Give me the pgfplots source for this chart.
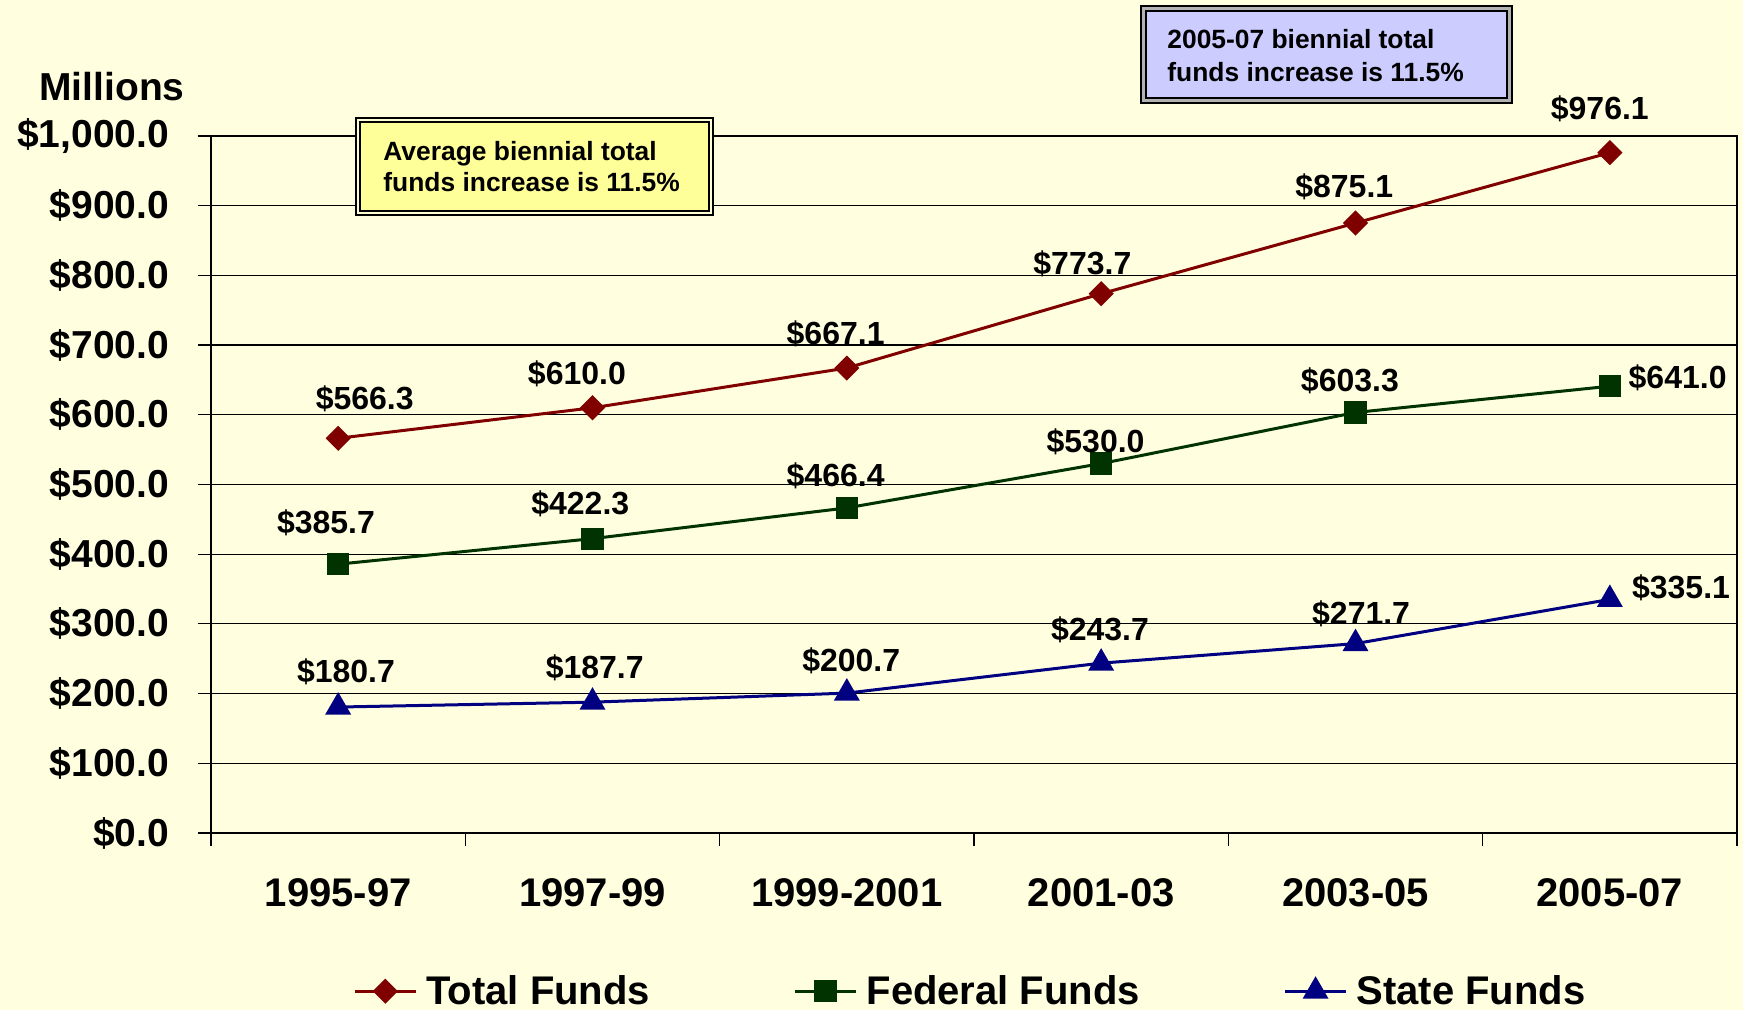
\documentclass[border=0pt]{standalone}
\usepackage{fontspec}
\setmainfont{Liberation Sans}
\usepackage{pgfplots}
\pgfplotsset{compat=1.18}
\usepackage{pgfplotstable}
\definecolor{bg}{RGB}{255,255,224}
\definecolor{ybox}{RGB}{255,255,153}
\definecolor{bbox}{RGB}{204,204,255}
\definecolor{ctot}{RGB}{128,0,0}
\definecolor{cfed}{RGB}{0,51,0}
\definecolor{csta}{RGB}{0,0,128}
\newcommand{\fs}[1]{\fontsize{#1}{1.2\dimexpr#1pt\relax}\selectfont\bfseries}
\pgfkeys{/pgf/number format/assume math mode=true}

\pgfplotstableread{
x y dx dy
0 566.3 13.3 19.5
1 610.0 -7.8 17.2
2 667.1 -5.6 17.2
3 773.7 -9.4 15.0
4 875.1 -5.6 18.3
5 976.1 -5.0 21.7
}\tottab
\pgfplotstableread{
x y dx dy
0 385.7 -6.1 20.6
1 422.3 -6.1 17.2
2 466.4 -5.6 16.1
3 530.0 -2.8 11.1
4 603.3 -2.8 15.6
5 641.0 33.9 4.4
}\fedtab
\pgfplotstableread{
x y dx dy
0 180.7 3.9 17.8
1 187.7 1.1 17.2
2 200.7 2.2 16.1
3 243.7 -0.6 16.7
4 271.7 2.8 15.0
5 335.1 35.6 5.6
}\statab

\begin{document}
\begin{tikzpicture}[x=1pt,y=1pt]
\fill[bg] (0,0) rectangle (871.5,505);
\useasboundingbox (0,0) rectangle (871.5,505);
\begin{axis}[
  at={(105.5pt,88.5pt)}, anchor=south west,
  width=763pt, height=348.5pt, scale only axis,
  clip=false,
  xmin=-0.5, xmax=5.5, ymin=0, ymax=1000,
  tick pos=left,
  xtick={-0.5,0.5,...,5.5}, xticklabels={},
  extra x ticks={0,1,2,3,4,5},
  extra x tick labels={1995-97,1997-99,1999-2001,2001-03,2003-05,2005-07},
  extra x tick style={major tick length=0pt, xticklabel style={anchor=center, yshift=-30pt}},
  ytick={0,100,...,1000},
  yticklabels={\$0.0,\$100.0,\$200.0,\$300.0,\$400.0,\$500.0,\$600.0,\$700.0,\$800.0,\$900.0,{\$1,000.0}},
  yticklabel style={anchor=east, inner sep=0pt, xshift=-14.25pt},
  tick align=outside,
  major tick length=6.5pt,
  every tick/.style={black, line width=0.6pt},
  tick label style={font=\fs{19.5}, text=black},
  xticklabel style={font=\fs{20}},
  ymajorgrids,
  major grid style={black, line width=0.6pt},
  axis line style={black, line width=0.8pt},
  legend columns=3,
  legend style={at={(0.093,-0.227)}, anchor=west, draw=none, fill=none,
    inner sep=0pt, font=\fs{20},
    nodes={inner sep=0pt},
    /tikz/every odd column/.append style={column sep=4.5pt},
    /tikz/every even column/.append style={column sep=71.8pt}},
  legend image code/.code={\draw[mark repeat=2,mark phase=2,#1] plot coordinates {(0pt,0pt) (15.25pt,0pt) (30.5pt,0pt)};},
  nodes near coords={\$\pgfmathprintnumber[fixed,fixed zerofill,precision=1]{\pgfplotspointmeta}},
  visualization depends on={\thisrow{dx} \as \dx},
  visualization depends on={\thisrow{dy} \as \dy},
  nodes near coords style={font=\fs{16}, text=black, anchor=center, inner sep=0pt, xshift=\dx pt, yshift=\dy pt},
]
\addplot[color=ctot, line width=1.5pt, mark=square*, mark size=3.7pt, mark options={rotate=45, solid, fill=ctot}] table[x=x,y=y] {\tottab};
\addlegendentry{Total Funds}
\addplot[color=cfed, line width=1.5pt, mark=square*, mark size=4.8pt, mark options={solid, fill=cfed}] table[x=x,y=y] {\fedtab};
\addlegendentry{Federal Funds}
\addplot[color=csta, line width=1.5pt, mark=triangle*, mark size=6pt, mark options={solid, fill=csta}] table[x=x,y=y] {\statab};
\addlegendentry{State Funds}
\end{axis}
% Millions label
\node[anchor=base west, inner sep=0pt, font=\fs{19.5}] at (19.5,454.5) {Millions};
% yellow box
\fill[ybox] (177.5,397) rectangle (357,446.5);
\draw[black, line width=1pt, double=ybox!40!white, double distance=1pt] (179,398.5) rectangle (355.5,445);
\node[anchor=base west, inner sep=0pt, font=\fs{13.2}] at (191.5,424.5) {Average biennial total};
\node[anchor=base west, inner sep=0pt, font=\fs{13.2}] at (191.5,409) {funds increase is 11.5\%};
% blue box
\fill[bbox] (570,453) rectangle (756.5,502.5);
\draw[black, line width=1.1pt, double=gray!60, double distance=1.4pt] (571.7,454.7) rectangle (754.8,500.8);
\node[anchor=base west, inner sep=0pt, font=\fs{13.2}] at (583.5,480.5) {2005-07 biennial total};
\node[anchor=base west, inner sep=0pt, font=\fs{13.2}] at (583.5,464) {funds increase is 11.5\%};
\end{tikzpicture}
\end{document}
